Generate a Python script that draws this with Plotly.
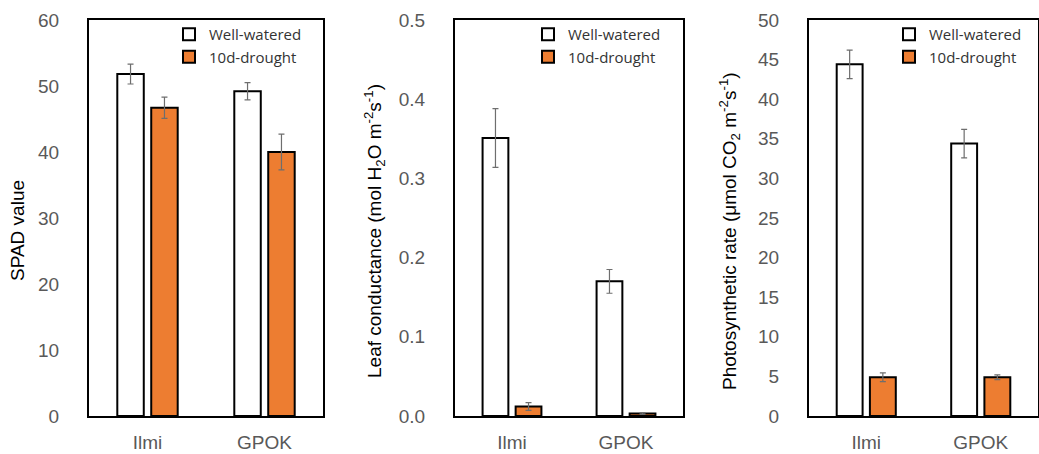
import plotly.graph_objects as go

categories = ["Ilmi", "GPOK"]
series_names = ["Well-watered", "10d-drought"]

spad_ww = [51.8, 49.2]
spad_ww_err = [1.5, 1.3]
spad_dr = [46.7, 40.0]
spad_dr_err = [1.6, 2.7]

cond_ww = [0.351, 0.170]
cond_ww_err = [0.037, 0.015]
cond_dr = [0.012, 0.003]
cond_dr_err = [0.005, 0.001]

photo_ww = [44.4, 34.4]
photo_ww_err = [1.8, 1.8]
photo_dr = [4.9, 4.9]
photo_dr_err = [0.55, 0.3]

y_titles = [
    "SPAD value",
    "Leaf conductance (mol H<sub>2</sub>O m<sup>-2</sup>s<sup>-1</sup>)",
    "Photosynthetic rate (μmol CO<sub>2</sub> m<sup>-2</sup>s<sup>-1</sup>)",
]
y_ranges = [[0, 60], [0, 0.5], [0, 50]]
y_dticks = [10, 0.1, 5]
y_formats = ["d", ".1f", "d"]

WW_FILL = "#FFFFFF"
DR_FILL = "#ED7D31"
ERR_COL = "#6E6E6E"
TICK_COL = "#595959"

fig = go.Figure()

W = 1039.0
H = 454.0
x_domains = [[89 / W, 323 / W], [455 / W, 683 / W], [809 / W, 1038 / W]]
y_domain = [1 - 416 / H, 1 - 20 / H]
legend_x = [169 / W, 528 / W, 889 / W]
title_x = [18 / W, 375 / W, 730 / W]
title_y = 1 - 231 / H

data = [
    (spad_ww, spad_ww_err, spad_dr, spad_dr_err),
    (cond_ww, cond_ww_err, cond_dr, cond_dr_err),
    (photo_ww, photo_ww_err, photo_dr, photo_dr_err),
]

annotations = []
for i, (ww, wwe, dr, dre) in enumerate(data):
    sfx = "" if i == 0 else str(i + 1)
    leg = "legend" + sfx
    for name, vals, errs, fill in [
        (series_names[0], ww, wwe, WW_FILL),
        (series_names[1], dr, dre, DR_FILL),
    ]:
        fig.add_trace(
            go.Bar(
                x=categories,
                y=vals,
                name=name,
                marker=dict(color=fill, line=dict(color="#000000", width=2)),
                error_y=dict(type="data", array=errs, color=ERR_COL, thickness=1.2, width=3),
                xaxis="x" + sfx,
                yaxis="y" + sfx,
                legend=leg,
            )
        )
    annotations.append(
        dict(
            text=y_titles[i],
            textangle=-90,
            xref="paper",
            yref="paper",
            x=title_x[i],
            y=title_y,
            xanchor="center",
            yanchor="middle",
            showarrow=False,
            font=dict(family="Liberation Sans, Arial", size=19, color="#000000"),
        )
    )
    fig.update_layout(
        {
            "xaxis" + sfx: dict(
                domain=x_domains[i],
                anchor="y" + sfx,
                showline=True,
                linecolor="#000000",
                linewidth=2,
                mirror=True,
                ticks="",
                showgrid=False,
                tickfont=dict(family="Liberation Sans, Arial", size=19, color=TICK_COL),
                ticklabelstandoff=8,
                automargin=False,
            ),
            "yaxis" + sfx: dict(
                domain=y_domain,
                anchor="x" + sfx,
                range=y_ranges[i],
                dtick=y_dticks[i],
                tick0=0,
                tickformat=y_formats[i],
                showline=True,
                linecolor="#000000",
                linewidth=2,
                mirror=True,
                ticks="",
                showgrid=False,
                zeroline=False,
                tickfont=dict(family="Liberation Sans, Arial", size=19, color=TICK_COL),
                ticklabelstandoff=24,
                automargin=False,
            ),
            leg: dict(
                x=legend_x[i],
                y=1 - 18 / H,
                xanchor="left",
                yanchor="top",
                bgcolor="rgba(0,0,0,0)",
                font=dict(family="Open Sans, Noto Sans", size=15, color="#333333"),
                itemwidth=30,
                tracegroupgap=0,
            ),
        }
    )

fig.update_layout(
    width=1039,
    height=454,
    margin=dict(l=0, r=0, t=0, b=0),
    paper_bgcolor="#FFFFFF",
    plot_bgcolor="#FFFFFF",
    barmode="group",
    bargap=0.42,
    bargroupgap=0.22,
    annotations=annotations,
)

fig.write_html("out.html")
